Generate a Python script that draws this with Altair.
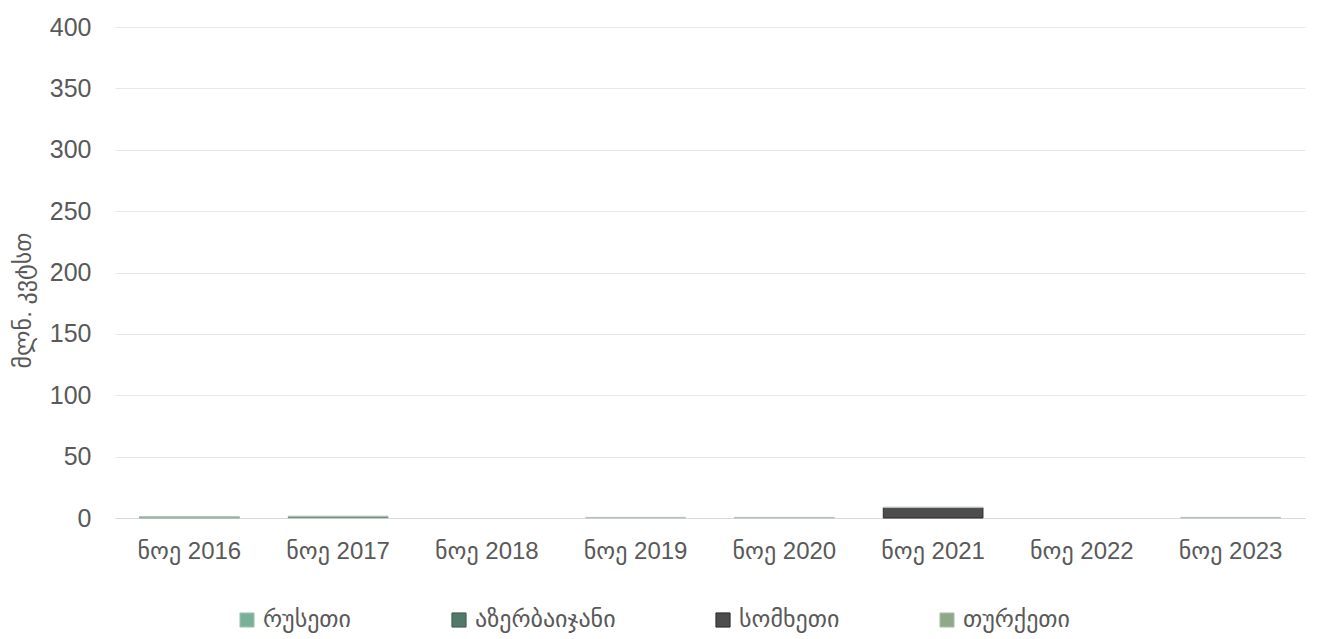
import altair as alt
import pandas as pd

months = ["ნოე 2016", "ნოე 2017", "ნოე 2018", "ნოე 2019", "ნოე 2020", "ნოე 2021", "ნოე 2022", "ნოე 2023"]
countries = ["რუსეთი", "აზერბაიჯანი", "სომხეთი", "თურქეთი"]

russia = [0.3, 0.6, 0.0, 0.0, 0.0, 0.0, 0.0, 0.0]
azerbaijan = [0.3, 0.3, 0.0, 0.0, 0.0, 0.0, 0.0, 0.0]
armenia = [0.0, 0.0, 0.0, 0.0, 0.0, 8.5, 0.0, 0.0]
turkey = [0.5, 0.6, 0.0, 0.5, 0.5, 0.3, 0.0, 0.5]

fills = ["#78b098", "#52796a", "#4d4d4d", "#8fa88a"]
strokes = ["#a9c9bb", "#3e5c50", "#2b2b2b", "#b5c2b8"]

rows = []
for series, name in zip([russia, azerbaijan, armenia, turkey], countries):
    for m, v in zip(months, series):
        rows.append({"თვე": m, "ქვეყანა": name, "მნიშვნელობა": v, "order": countries.index(name)})
df = pd.DataFrame(rows)

FONT = "Liberation Sans, DejaVu Sans"

chart = alt.Chart(df).transform_filter(
    alt.datum["მნიშვნელობა"] > 0
).mark_bar(strokeWidth=1).encode(
    x=alt.X("თვე:N", sort=months, title=None,
            scale=alt.Scale(domain=months, paddingInner=0.33, paddingOuter=0.165),
            axis=alt.Axis(labelAngle=0, labelFontSize=24, labelColor="#595959", labelFont=FONT,
                          ticks=False, domain=True, domainColor="#d9d9d9", labelPadding=21)),
    y=alt.Y("sum(მნიშვნელობა):Q", title="მლნ. კვტსთ",
            scale=alt.Scale(domain=[0, 400]),
            axis=alt.Axis(values=list(range(0, 401, 50)), labelFontSize=25, labelColor="#595959",
                          labelFont=FONT, ticks=False, domain=False, gridColor="#e8e8e8",
                          labelPadding=24, titleFont=FONT, titleFontSize=24, titleColor="#595959",
                          titleFontWeight="normal", titlePadding=14, titleY=273)),
    color=alt.Color("ქვეყანა:N", sort=countries,
                    scale=alt.Scale(domain=countries, range=fills),
                    legend=alt.Legend(title=None, orient="none", legendX=120, legendY=581,
                                      direction="horizontal", columns=4, symbolType="square",
                                      symbolSize=200, labelFontSize=24, labelColor="#595959",
                                      labelFont=FONT, columnPadding=95, symbolStrokeWidth=1,
                                      labelOffset=4)),
    stroke=alt.Stroke("ქვეყანა:N", sort=countries,
                      scale=alt.Scale(domain=countries, range=strokes)),
    order=alt.Order("order:Q", sort="ascending"),
).properties(
    width=1190, height=491,
    background="white",
    autosize=alt.AutoSizeParams(type="none"),
    padding={"left": 115, "top": 27, "right": 14, "bottom": 121},
).configure_view(stroke=None)

chart.save("out.html", embed_options={"renderer": "svg", "actions": False})
